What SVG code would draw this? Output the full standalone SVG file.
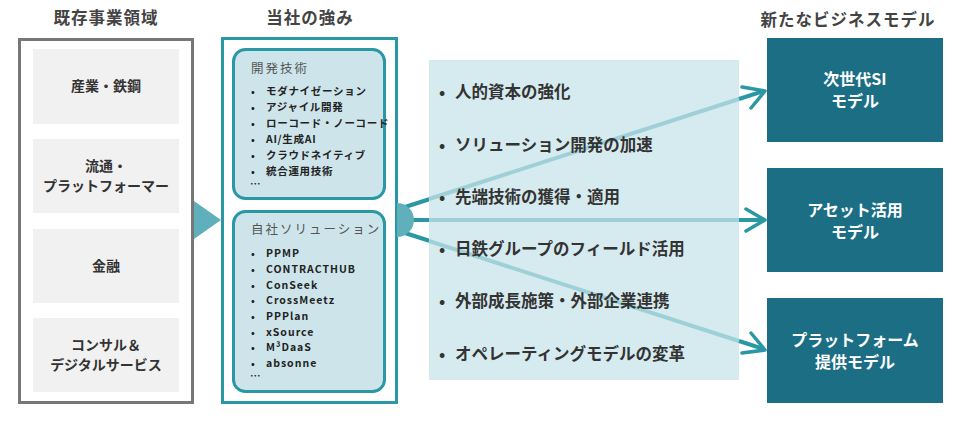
<svg xmlns="http://www.w3.org/2000/svg" width="960" height="421" viewBox="0 0 960 421">
<style>
text{font-family:"Noto Sans CJK JP","Noto Sans",sans-serif;font-weight:bold}
.h{font-size:16.5px;fill:#444;text-anchor:middle;letter-spacing:1px}
.g{fill:#f1f1f1}
.gt{font-size:14px;fill:#333;text-anchor:middle}
.ib{fill:#cde5ea;stroke:#2a97a5;stroke-width:3}
.it{font-size:10.5px;fill:#222;letter-spacing:0.7px}
.ih{font-size:12.5px;fill:#555;font-weight:normal;letter-spacing:2px}
.pt{font-size:16.5px;fill:#333}
.rb{fill:#1c6e85}
.rt{font-size:16px;fill:#fff;text-anchor:middle}
.dk{stroke:#2a97a5;stroke-width:4;fill:none}
.lt{stroke:#9fd0d8;stroke-width:4;fill:none}
.ah{stroke:#2a97a5;stroke-width:3.5;fill:none;stroke-linecap:round;stroke-linejoin:round}
</style>
<defs>
<g id="b5"><text x="0" y="0" font-size="10">•</text></g>
</defs>
<rect width="960" height="421" fill="#fff"/>
<text class="h" x="106" y="24">既存事業領域</text>
<text class="h" x="310" y="24">当社の強み</text>
<text class="h" x="848" y="26">新たなビジネスモデル</text>
<g id="existing">
<rect x="19.5" y="39.5" width="173" height="363" fill="#fff" stroke="#777" stroke-width="3"/>
<rect class="g" x="33" y="49" width="146" height="75"/><text class="gt" x="106" y="91">産業・鉄鋼</text>
<rect class="g" x="33" y="139" width="146" height="74"/><text class="gt" x="106" y="171">流通・</text><text class="gt" x="106" y="191">プラットフォーマー</text>
<rect class="g" x="33" y="229" width="146" height="74"/><text class="gt" x="106" y="271">金融</text>
<rect class="g" x="33" y="318" width="146" height="74"/><text class="gt" x="106" y="350">コンサル＆</text><text class="gt" x="106" y="370">デジタルサービス</text>
</g>
<polygon id="tri" points="194,201 221,220 194,239" fill="#5fb0bb"/>
<g id="strengths">
<rect x="222.5" y="38.5" width="174" height="364" fill="#fff" stroke="#2a97a5" stroke-width="3"/>
<rect class="ib" x="233.5" y="49.5" width="151" height="149" rx="12"/>
<text class="ih" x="251" y="73">開発技術</text>
<g class="it">
<use href="#b5" x="251" y="95"/><text x="266" y="95">モダナイゼーション</text>
<use href="#b5" x="251" y="111"/><text x="266" y="111">アジャイル開発</text>
<use href="#b5" x="251" y="127"/><text x="266" y="127">ローコード・ノーコード</text>
<use href="#b5" x="251" y="143"/><text x="266" y="143">AI/生成AI</text>
<use href="#b5" x="251" y="159"/><text x="266" y="159">クラウドネイティブ</text>
<use href="#b5" x="251" y="175"/><text x="266" y="175">統合運用技術</text>
<text x="250" y="188">…</text>
</g>
<rect class="ib" x="233.5" y="211.5" width="151" height="180" rx="12"/>
<text class="ih" x="251" y="234">自社ソリューション</text>
<g class="it" style="letter-spacing:1px">
<use href="#b5" x="251" y="257"/><text x="266" y="257">PPMP</text>
<use href="#b5" x="251" y="273"/><text x="266" y="273">CONTRACTHUB</text>
<use href="#b5" x="251" y="289"/><text x="266" y="289">ConSeek</text>
<use href="#b5" x="251" y="304"/><text x="266" y="304">CrossMeetz</text>
<use href="#b5" x="251" y="320"/><text x="266" y="320">PPPlan</text>
<use href="#b5" x="251" y="336"/><text x="266" y="336">xSource</text>
<use href="#b5" x="251" y="351"/><text x="266" y="351">M³DaaS</text>
<use href="#b5" x="251" y="367"/><text x="266" y="367">absonne</text>
<text x="250" y="380">…</text>
</g>
</g>
<g id="connectors">
<line class="dk" x1="405" y1="207" x2="430" y2="199"/>
<line class="dk" x1="405" y1="220" x2="430" y2="220"/>
<line class="dk" x1="405" y1="233" x2="430" y2="241"/>
</g>
<path id="hub" d="M397,203 A17,17 0 0 1 397,237 Z" fill="#5fb0bb"/>
<g id="panel">
<rect x="429" y="60" width="310" height="320" fill="#d6ebef"/>
<line class="lt" x1="429" y1="199" x2="739" y2="99"/>
<line class="lt" x1="429" y1="220" x2="739" y2="220"/>
<line class="lt" x1="429" y1="241" x2="739" y2="341"/>
<g class="pt">
<text x="439" y="98">•</text><text x="455" y="98">人的資本の強化</text>
<text x="439" y="151">•</text><text x="455" y="151">ソリューション開発の加速</text>
<text x="439" y="203">•</text><text x="455" y="203">先端技術の獲得・適用</text>
<text x="439" y="255">•</text><text x="455" y="255">日鉄グループのフィールド活用</text>
<text x="439" y="307">•</text><text x="455" y="307">外部成長施策・外部企業連携</text>
<text x="439" y="360">•</text><text x="455" y="360">オペレーティングモデルの変革</text>
</g>
</g>
<g id="arrows">
<line class="dk" x1="739" y1="99" x2="764" y2="91"/>
<line class="dk" x1="739" y1="220" x2="764" y2="220"/>
<line class="dk" x1="739" y1="341" x2="764" y2="349"/>
<path class="ah" d="M742,87 L765,91 L751,108"/>
<path class="ah" d="M746,209 L765,220 L746,231"/>
<path class="ah" d="M751,333 L765,350 L742,353"/>
</g>
<g id="model1"><rect class="rb" x="767" y="38" width="176" height="104"/><text class="rt" x="855" y="85">次世代SI</text><text class="rt" x="855" y="107">モデル</text></g>
<g id="model2"><rect class="rb" x="767" y="168" width="176" height="104"/><text class="rt" x="855" y="216">アセット活用</text><text class="rt" x="855" y="238">モデル</text></g>
<g id="model3"><rect class="rb" x="767" y="298" width="176" height="105"/><text class="rt" x="855" y="346">プラットフォーム</text><text class="rt" x="855" y="368">提供モデル</text></g>
</svg>
